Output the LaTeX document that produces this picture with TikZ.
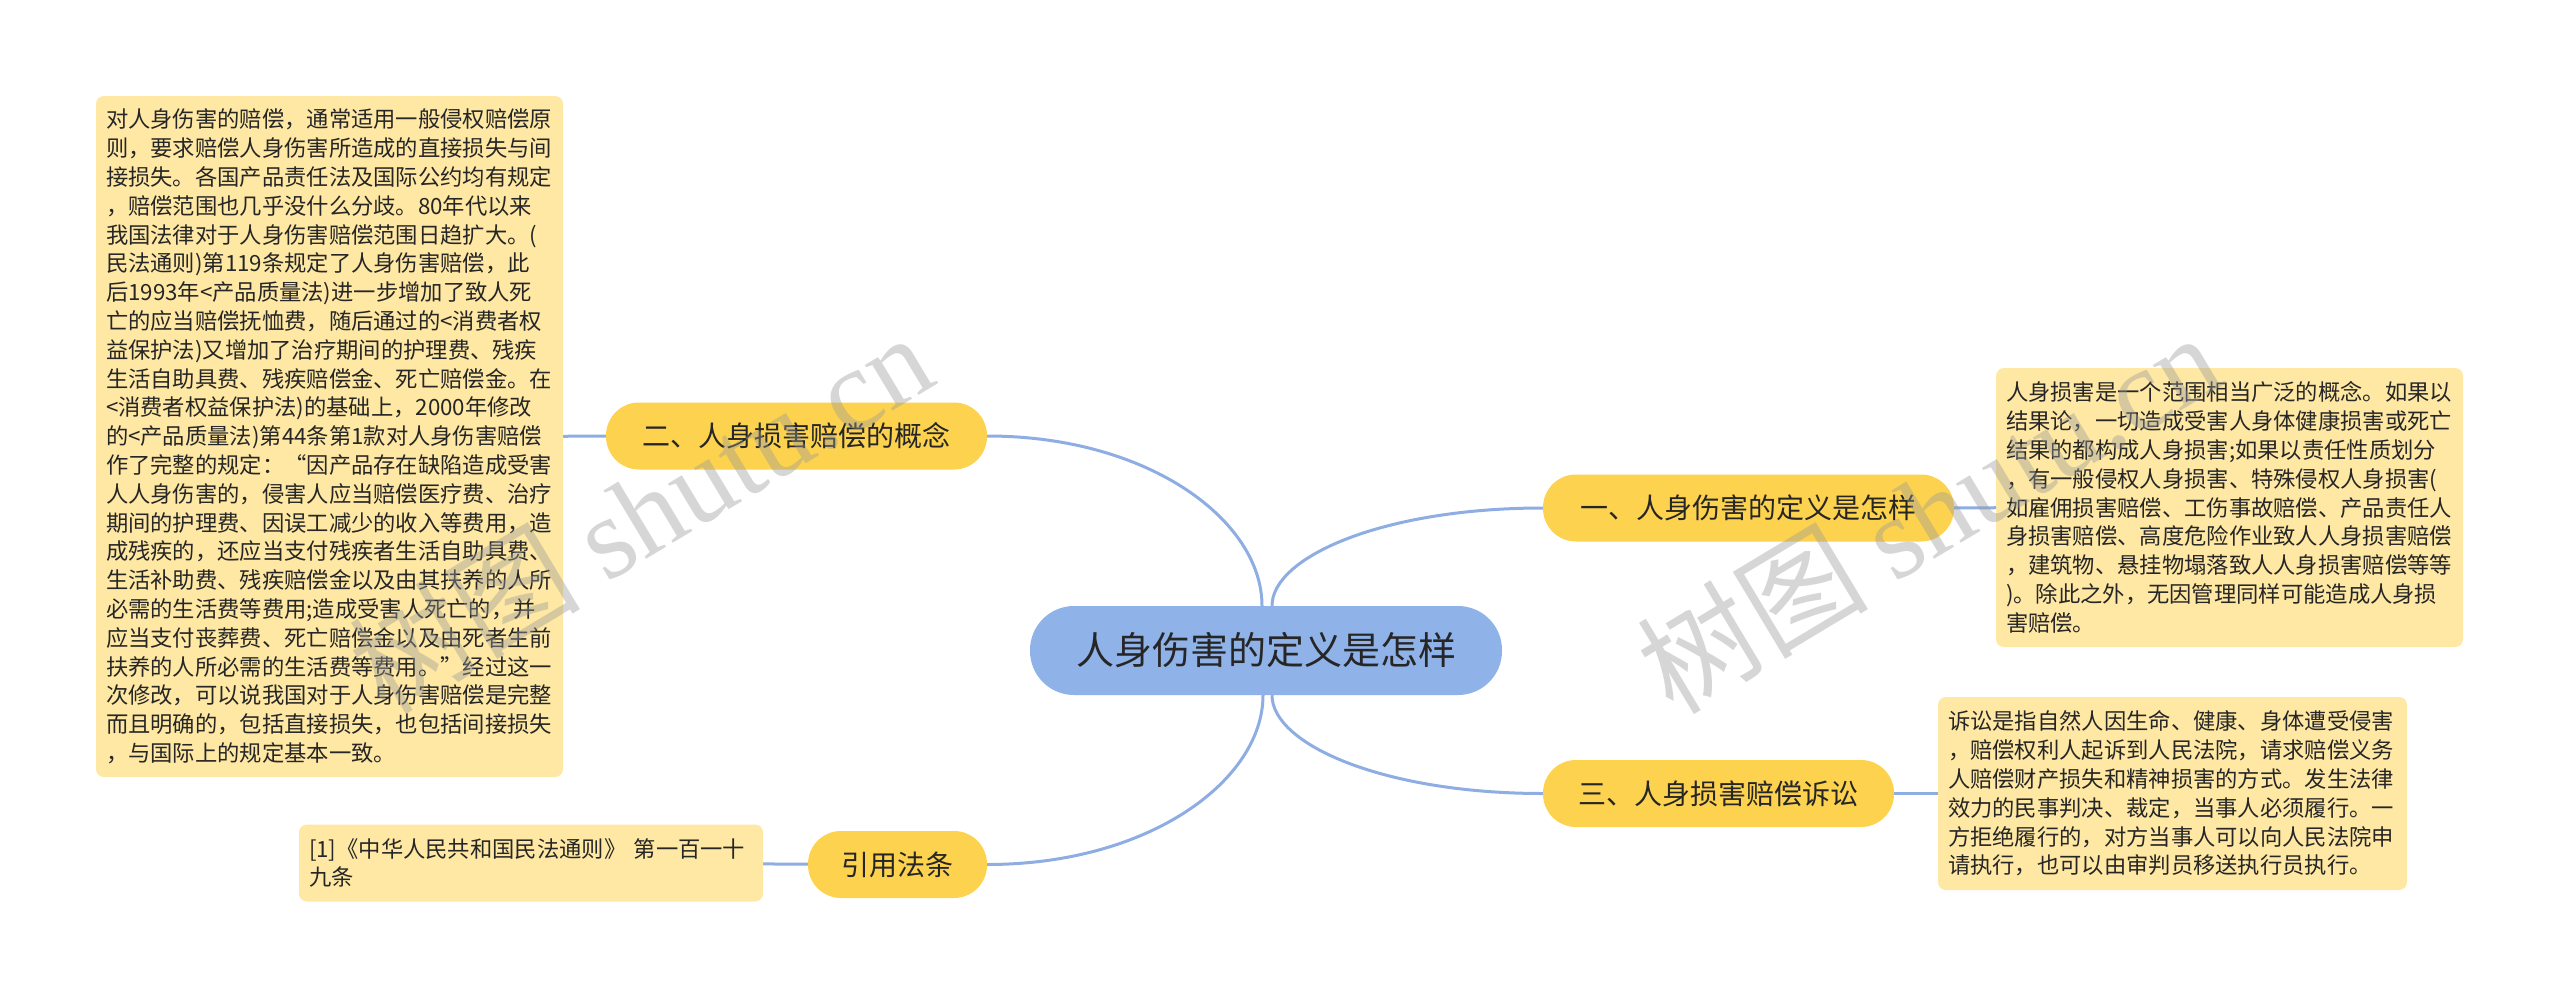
\documentclass[tikz,border=0pt]{standalone}
\usepackage{fontspec}
\setmainfont{Noto Sans CJK SC}
\newfontfamily\wmlatin{Liberation Serif}
\usetikzlibrary{calc,backgrounds}
\definecolor{connc}{HTML}{8DADE3}
\definecolor{centerc}{HTML}{8FB2E8}
\definecolor{branchc}{HTML}{FDD24E}
\definecolor{boxc}{HTML}{FEE8A3}
\definecolor{txtc}{HTML}{262626}
\tikzset{
  conn/.style={draw=connc, line width=3pt},
  cnode/.style={fill=centerc, rounded corners=44pt, minimum width=472pt, minimum height=89pt, inner sep=0pt, text=txtc, font=\fontsize{38}{44}\selectfont},
  branch/.style={fill=branchc, rounded corners=33pt, minimum height=67pt, inner sep=0pt, text=txtc, font=\fontsize{28}{34}\selectfont},
  tbox/.style={fill=boxc, rounded corners=8pt, inner xsep=10pt, inner ysep=0pt, align=left, text=txtc, font=\fontsize{22.3}{28.8}\selectfont},
  wm/.style={text=black!40, opacity=0.4, rotate=31, inner sep=0pt, font=\fontsize{116}{120}\selectfont}
}
\begin{document}
\begin{tikzpicture}[x=1pt,y=-1pt]
\useasboundingbox (0,0) rectangle (2560,1001);
% central
\node[cnode] (c) at (1266,650.5) {人身伤害的定义是怎样};
% branches
\node[branch, minimum width=381pt] (n2) at (796.5,436) {二、人身损害赔偿的概念};
\node[branch, minimum width=411pt] (n1) at (1748.5,508) {一、人身伤害的定义是怎样};
\node[branch, minimum width=351pt] (n3) at (1718.5,793.5) {三、人身损害赔偿诉讼};
\node[branch, minimum width=179pt] (n4) at (897.5,864.5) {引用法条};
% text boxes
\node[tbox, text width=447pt, minimum height=681pt] (t2) at (329.5,436.5) {对人身伤害的赔偿，通常适用一般侵权赔偿原\\
则，要求赔偿人身伤害所造成的直接损失与间\\
接损失。各国产品责任法及国际公约均有规定\\
，赔偿范围也几乎没什么分歧。80年代以来\\
我国法律对于人身伤害赔偿范围日趋扩大。(\\
民法通则)第119条规定了人身伤害赔偿，此\\
后1993年<产品质量法)进一步增加了致人死\\
亡的应当赔偿抚恤费，随后通过的<消费者权\\
益保护法)又增加了治疗期间的护理费、残疾\\
生活自助具费、残疾赔偿金、死亡赔偿金。在\\
<消费者权益保护法)的基础上，2000年修改\\
的<产品质量法)第44条第1款对人身伤害赔偿\\
作了完整的规定：“因产品存在缺陷造成受害\\
人人身伤害的，侵害人应当赔偿医疗费、治疗\\
期间的护理费、因误工减少的收入等费用，造\\
成残疾的，还应当支付残疾者生活自助具费、\\
生活补助费、残疾赔偿金以及由其扶养的人所\\
必需的生活费等费用;造成受害人死亡的，并\\
应当支付丧葬费、死亡赔偿金以及由死者生前\\
扶养的人所必需的生活费等费用。”经过这一\\
次修改，可以说我国对于人身伤害赔偿是完整\\
而且明确的，包括直接损失，也包括间接损失\\
，与国际上的规定基本一致。};
\node[tbox, text width=447pt, minimum height=279pt] (t1) at (2229.5,507.5) {人身损害是一个范围相当广泛的概念。如果以\\
结果论，一切造成受害人身体健康损害或死亡\\
结果的都构成人身损害;如果以责任性质划分\\
，有一般侵权人身损害、特殊侵权人身损害(\\
如雇佣损害赔偿、工伤事故赔偿、产品责任人\\
身损害赔偿、高度危险作业致人人身损害赔偿\\
，建筑物、悬挂物塌落致人人身损害赔偿等等\\
)。除此之外，无因管理同样可能造成人身损\\
害赔偿。};
\node[tbox, text width=449pt, minimum height=193pt] (t3) at (2172.5,793.5) {诉讼是指自然人因生命、健康、身体遭受侵害\\
，赔偿权利人起诉到人民法院，请求赔偿义务\\
人赔偿财产损失和精神损害的方式。发生法律\\
效力的民事判决、裁定，当事人必须履行。一\\
方拒绝履行的，对方当事人可以向人民法院申\\
请执行，也可以由审判员移送执行员执行。};
\node[tbox, text width=444pt, minimum height=77pt] (t4) at (531,863) {[1]《中华人民共和国民法通则》 第一百一十\\
九条};
% connectors
\coordinate (aL) at ([xshift=-4pt]c.north);
\coordinate (aR) at ([xshift=6pt]c.north);
\coordinate (bL) at ([xshift=-3pt]c.south);
\coordinate (bR) at ([xshift=6pt]c.south);
\begin{scope}[on background layer]
\fill[white] (0,0) rectangle (2560,1001);
\draw[conn] (aL) .. controls ($(aL)!0.5!(aL|-n2.east)$) and ($(aL|-n2.east)!0.41!(n2.east)$) .. (n2.east);
\draw[conn] (aR) .. controls ($(aR)!0.5!(aR|-n1.west)$) and ($(aR|-n1.west)!0.41!(n1.west)$) .. (n1.west);
\draw[conn] (bR) .. controls ($(bR)!0.5!(bR|-n3.west)$) and ($(bR|-n3.west)!0.41!(n3.west)$) .. (n3.west);
\draw[conn] (bL) .. controls ($(bL)!0.5!(bL|-n4.east)$) and ($(bL|-n4.east)!0.41!(n4.east)$) .. (n4.east);
\draw[conn] (n2) -- (t2);
\draw[conn] (n1) -- (t1);
\draw[conn] (n3) -- (t3);
\draw[conn] (n4) -- (t4);
\end{scope}
% watermarks
\node[wm] (wmL) at (640,512) {树图 {\wmlatin shutu.cn}};
\node[wm] (wmR) at (1928,512) {树图 {\wmlatin shutu.cn}};
\end{tikzpicture}
\end{document}
